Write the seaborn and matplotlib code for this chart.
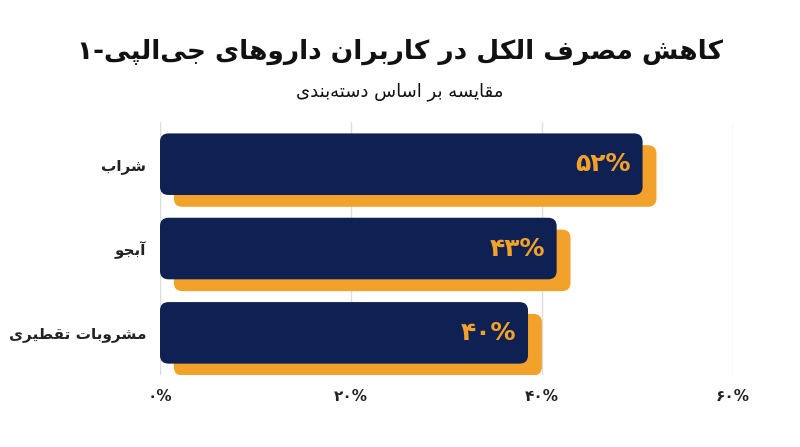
import matplotlib
matplotlib.use("Agg")
import matplotlib.pyplot as plt
import seaborn as sns
import pandas as pd
from matplotlib.patches import FancyBboxPatch

# داده‌ها
categories = ["شراب", "آبجو", "مشروبات تقطیری"]
values = [52, 43, 40]
value_labels = ["۵۲%", "۴۳%", "۴۰%"]
tick_values = [0, 20, 40, 60]
tick_labels = ["۰%", "۲۰%", "۴۰%", "۶۰%"]
title = "کاهش مصرف الکل در کاربران داروهای جی\u200cالپی-۱"
subtitle = "مقایسه بر اساس دسته\u200cبندی"

NAVY = "#0f2152"
ORANGE = "#f2a12a"

# شکل‌دهی ساده حروف فارسی (matplotlib خودش اتصال حروف را انجام نمی‌دهد)
FORMS = {
    "ا": (0xFE8D, 0xFE8E), "آ": (0xFE81, 0xFE82), "د": (0xFEA9, 0xFEAA),
    "ر": (0xFEAD, 0xFEAE), "و": (0xFEED, 0xFEEE),
    "ب": (0xFE8F, 0xFE90, 0xFE91, 0xFE92), "پ": (0xFB56, 0xFB57, 0xFB58, 0xFB59),
    "ت": (0xFE95, 0xFE96, 0xFE97, 0xFE98), "ج": (0xFE9D, 0xFE9E, 0xFE9F, 0xFEA0),
    "س": (0xFEB1, 0xFEB2, 0xFEB3, 0xFEB4), "ش": (0xFEB5, 0xFEB6, 0xFEB7, 0xFEB8),
    "ص": (0xFEB9, 0xFEBA, 0xFEBB, 0xFEBC), "ط": (0xFEC1, 0xFEC2, 0xFEC3, 0xFEC4),
    "ف": (0xFED1, 0xFED2, 0xFED3, 0xFED4), "ق": (0xFED5, 0xFED6, 0xFED7, 0xFED8),
    "ک": (0xFB8E, 0xFB8F, 0xFB90, 0xFB91), "ل": (0xFEDD, 0xFEDE, 0xFEDF, 0xFEE0),
    "م": (0xFEE1, 0xFEE2, 0xFEE3, 0xFEE4), "ن": (0xFEE5, 0xFEE6, 0xFEE7, 0xFEE8),
    "ه": (0xFEE9, 0xFEEA, 0xFEEB, 0xFEEC), "ی": (0xFBFC, 0xFBFD, 0xFBFE, 0xFBFF),
}


def fa(text):
    out = []
    n = len(text)
    for i, ch in enumerate(text):
        if ch == "\u200c":
            continue
        f = FORMS.get(ch)
        if f is None:
            out.append(ch)
            continue
        prev = text[i - 1] if i > 0 else ""
        nxt = text[i + 1] if i + 1 < n else ""
        join_prev = prev in FORMS and len(FORMS[prev]) == 4
        join_next = len(f) == 4 and nxt in FORMS
        if join_prev and join_next:
            code = f[3]
        elif join_prev:
            code = f[1]
        elif join_next:
            code = f[2]
        else:
            code = f[0]
        out.append(chr(code))
    return "".join(reversed(out))


sns.set_theme(style="white")
plt.rcParams["font.family"] = ["DejaVu Sans"]

fig = plt.figure(figsize=(8, 4.47), dpi=100)
ax = fig.add_axes([0.2, 0.161, 0.716, 0.566])

df = pd.DataFrame({"cat": categories, "val": values})
shift = 1.45
df["front"] = df["val"] - shift

sns.barplot(data=df, x="val", y="cat", color=ORANGE, saturation=1, width=0.73, ax=ax, zorder=2)
sns.barplot(data=df, x="front", y="cat", color=NAVY, saturation=1, width=0.73, ax=ax, zorder=3)

# گوشه‌های گرد و جابه‌جایی سایه نارنجی
n_cat = len(categories)
patches = list(ax.patches)
for k, p in enumerate(patches):
    x, y, w, h = p.get_x(), p.get_y(), p.get_width(), p.get_height()
    is_shadow = k < n_cat
    if is_shadow:
        y += 0.14
        x += shift
        w -= shift
    fb = FancyBboxPatch((x, y), w, h, boxstyle="round,pad=0,rounding_size=0.9",
                        mutation_aspect=0.11, facecolor=p.get_facecolor(),
                        edgecolor="none", zorder=2 if is_shadow else 3)
    p.remove()
    ax.add_patch(fb)

for i, (v, lab) in enumerate(zip(df["front"], value_labels)):
    ax.text(v - 1.2, i, lab, ha="right", va="center", color=ORANGE,
            fontsize=18, fontweight="bold", zorder=4)

ax.set_xlim(0, 60)
ax.set_ylim(2.5, -0.5)
ax.set_xticks(tick_values)
ax.set_xticklabels(tick_labels, fontsize=11, fontweight="bold", color="#222222")
ax.set_yticks(range(n_cat))
ax.set_yticklabels([fa(c) for c in categories], fontsize=11, fontweight="bold", color="#222222")
ax.tick_params(axis="both", length=0, pad=10)
ax.set_xlabel("")
ax.set_ylabel("")
ax.grid(axis="x", color="#dddddd", linewidth=1, zorder=0)
ax.set_axisbelow(True)
sns.despine(ax=ax, left=True, bottom=True)

fig.text(0.5, 0.885, fa(title), ha="center", va="center", fontsize=19,
         fontweight="bold", color="#111111")
fig.text(0.5, 0.795, fa(subtitle), ha="center", va="center", fontsize=13,
         color="#111111")

fig.savefig("out.png", dpi=100, facecolor="white")
